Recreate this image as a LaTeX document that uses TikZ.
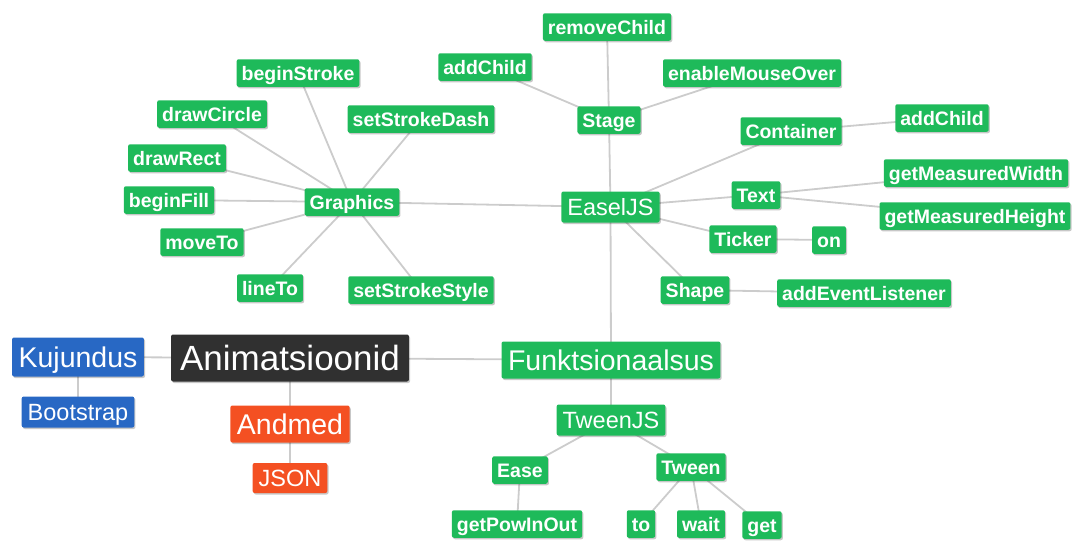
\documentclass[tikz,border=0pt]{standalone}
\usepackage{fontspec}
\setmainfont{Liberation Sans}
\usetikzlibrary{backgrounds,shadows}

\definecolor{leafgreen}{RGB}{30,186,90}
\definecolor{rootdark}{RGB}{48,48,48}
\definecolor{layoutblue}{RGB}{40,104,196}
\definecolor{dataorange}{RGB}{244,80,34}
\definecolor{linkgray}{RGB}{204,204,204}

\tikzset{
  x=1pt, y=-1pt,
  box/.style={rounded corners=2pt, text=white, inner ysep=0pt, anchor=center,
    drop shadow={shadow xshift=1.2pt, shadow yshift=-1.5pt, opacity=0.22, fill=black}},
  rootbox/.style={box, fill=rootdark, font=\fontsize{35}{36}\selectfont,
    text height=25pt, text depth=0pt, inner xsep=9pt, minimum height=47pt},
  topbox/.style={box, font=\fontsize{28.5}{30}\selectfont,
    text height=20.5pt, text depth=0pt, inner xsep=6.5pt, minimum height=37pt},
  midbox/.style={box, fill=leafgreen, font=\fontsize{23.5}{25}\selectfont,
    text height=17pt, text depth=0pt, inner xsep=6pt, minimum height=31pt},
  leafbox/.style={box, fill=leafgreen, font=\bfseries\fontsize{19.5}{21}\selectfont,
    text height=14pt, text depth=0pt, inner xsep=5pt, minimum height=27.5pt},
  link/.style={draw=linkgray, line width=1.8pt}
}

\begin{document}
\begin{tikzpicture}
\useasboundingbox (0,0) rectangle (1072,541);

% root and its first-level branches
\node[rootbox] (anim) at (290,358) {Animatsioonid};
\node[topbox, fill=layoutblue, minimum height=39pt] (kuj) at (78,357) {Kujundus};
\node[midbox, fill=layoutblue] (boot) at (78,412) {Bootstrap};
\node[topbox, fill=dataorange] (andmed) at (290,424) {Andmed};
\node[midbox, fill=dataorange, minimum height=30pt] (json) at (290,478) {JSON};
\node[topbox, fill=leafgreen] (funk) at (611,360) {Funktsionaalsus};

% TweenJS branch
\node[midbox] (tweenjs) at (611,420) {TweenJS};
\node[leafbox] (ease) at (520,470) {Ease};
\node[leafbox] (tween) at (691,467) {Tween};
\node[leafbox] (getpow) at (517,524) {getPowInOut};
\node[leafbox] (to) at (641,524) {to};
\node[leafbox] (wait) at (701,524) {wait};
\node[leafbox] (get) at (762,525) {get};

% EaselJS branch
\node[midbox] (easel) at (610.5,207) {EaselJS};
\node[leafbox] (stage) at (609,120) {Stage};
\node[leafbox] (remove) at (607,27) {removeChild};
\node[leafbox] (addA) at (485,67) {addChild};
\node[leafbox] (mouse) at (752,73) {enableMouseOver};
\node[leafbox] (container) at (791,131) {Container};
\node[leafbox] (addB) at (942,118) {addChild};
\node[leafbox] (text) at (756,195) {Text};
\node[leafbox] (gmw) at (976,173) {getMeasuredWidth};
\node[leafbox] (gmh) at (975,216) {getMeasuredHeight};
\node[leafbox] (ticker) at (743,239) {Ticker};
\node[leafbox] (on) at (829,240) {on};
\node[leafbox] (shape) at (695,290) {Shape};
\node[leafbox] (listener) at (864,293) {addEventListener};

% Graphics branch
\node[leafbox] (graphics) at (352,202) {Graphics};
\node[leafbox] (bstroke) at (298,73) {beginStroke};
\node[leafbox] (sdash) at (421,119) {setStrokeDash};
\node[leafbox] (dcircle) at (212,114) {drawCircle};
\node[leafbox] (drect) at (177,158) {drawRect};
\node[leafbox] (bfill) at (169,200) {beginFill};
\node[leafbox] (moveto) at (202,242) {moveTo};
\node[leafbox] (lineto) at (270,288) {lineTo};
\node[leafbox] (sstyle) at (421,290) {setStrokeStyle};

% connectors, drawn behind the boxes
\begin{scope}[on background layer]
  \foreach \a/\b in {anim/kuj, kuj/boot, anim/andmed, andmed/json, anim/funk,
      funk/easel, funk/tweenjs, tweenjs/ease, tweenjs/tween, ease/getpow,
      tween/to, tween/wait, tween/get,
      easel/stage, stage/remove, stage/addA, stage/mouse,
      easel/container, container/addB, easel/text, text/gmw, text/gmh,
      easel/ticker, ticker/on, easel/shape, shape/listener,
      easel/graphics, graphics/bstroke, graphics/sdash, graphics/dcircle,
      graphics/drect, graphics/bfill, graphics/moveto, graphics/lineto,
      graphics/sstyle}
    \draw[link] (\a.center) -- (\b.center);
\end{scope}
\end{tikzpicture}
\end{document}
